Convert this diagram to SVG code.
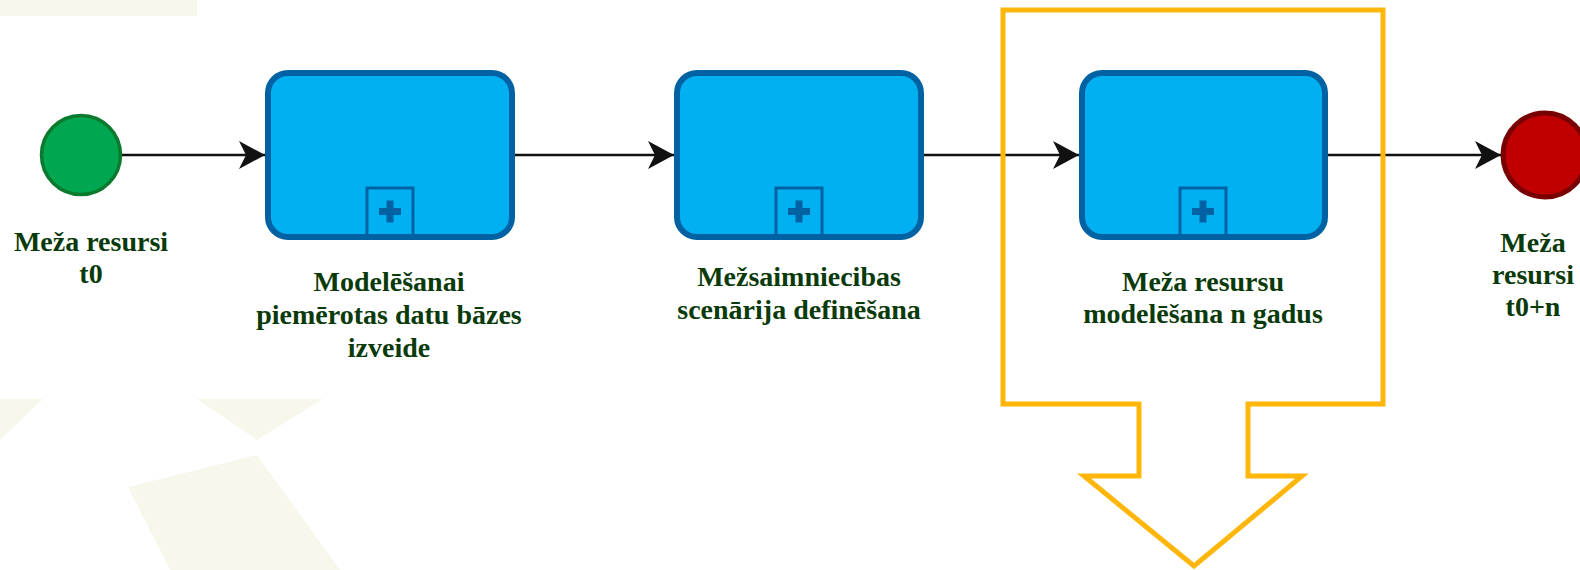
<svg xmlns="http://www.w3.org/2000/svg" width="1580" height="570" viewBox="0 0 1580 570">
  <defs>
    <style>
      .bg { fill: #F7F7EC; }
      .task { fill: #00B0F0; stroke: #0062A3; stroke-width: 6; }
      .mk { fill: none; stroke: #0062A3; stroke-width: 3; }
      .cross { fill: #0062A3; }
      .lbl { font-family: "Liberation Serif", "Times New Roman", serif; font-weight: bold; font-size: 28px; fill: #0A3A0A; text-anchor: middle; }
      .flow { fill: none; stroke: #111111; stroke-width: 2.5; }
      .callout { fill: none; stroke: #FFB60A; stroke-width: 5; stroke-linejoin: miter; }
    </style>
    <marker id="arr" viewBox="0 0 26 28" refX="26" refY="14" markerWidth="26" markerHeight="28" markerUnits="userSpaceOnUse" orient="auto">
      <path d="M0,0 L26,14 L0,28 L7,14 Z" fill="#111111"/>
    </marker>
  </defs>

  <g id="background">
    <rect x="0" y="0" width="197" height="16" class="bg"/>
    <polygon points="0,399 43,399 0,440" class="bg"/>
    <polygon points="197,399 323,399 257,440" class="bg"/>
    <polygon points="128,487 257,455 340,570 170,570" class="bg"/>
  </g>

  <g id="connectors">
    <line x1="122" y1="155" x2="265" y2="155" class="flow" marker-end="url(#arr)"/>
    <line x1="515" y1="155" x2="674" y2="155" class="flow" marker-end="url(#arr)"/>
    <line x1="924" y1="155" x2="1079" y2="155" class="flow" marker-end="url(#arr)"/>
    <line x1="1328" y1="155" x2="1501" y2="155" class="flow" marker-end="url(#arr)"/>
  </g>

  <g id="start-event">
    <circle cx="81" cy="155" r="39.5" fill="#00A650" stroke="#0B7A2E" stroke-width="3.5"/>
    <text class="lbl" x="91" y="251">Meža resursi</text>
    <text class="lbl" x="91" y="283">t0</text>
  </g>

  <g id="task-1">
    <rect x="268" y="73" width="244" height="164" rx="20" class="task"/>
    <rect x="367" y="188" width="46" height="48" class="mk"/>
    <rect x="379" y="208" width="22" height="7" class="cross"/>
    <rect x="386.5" y="200.5" width="7" height="22" class="cross"/>
    <text class="lbl" x="389" y="291">Modelēšanai</text>
    <text class="lbl" x="389" y="324">piemērotas datu bāzes</text>
    <text class="lbl" x="389" y="357">izveide</text>
  </g>

  <g id="task-2">
    <rect x="677" y="73" width="244" height="164" rx="20" class="task"/>
    <rect x="776" y="188" width="46" height="48" class="mk"/>
    <rect x="788" y="208" width="22" height="7" class="cross"/>
    <rect x="795.5" y="200.5" width="7" height="22" class="cross"/>
    <text class="lbl" x="799" y="286">Mežsaimniecibas</text>
    <text class="lbl" x="799" y="319">scenārija definēšana</text>
  </g>

  <g id="task-3">
    <rect x="1082" y="73" width="243" height="164" rx="20" class="task"/>
    <rect x="1180" y="188" width="46" height="48" class="mk"/>
    <rect x="1192" y="208" width="22" height="7" class="cross"/>
    <rect x="1199.5" y="200.5" width="7" height="22" class="cross"/>
    <text class="lbl" x="1203" y="291">Meža resursu</text>
    <text class="lbl" x="1203" y="323">modelēšana n gadus</text>
  </g>

  <g id="end-event">
    <circle cx="1545" cy="155" r="42" fill="#C00000" stroke="#780000" stroke-width="5"/>
    <text class="lbl" x="1533" y="252">Meža</text>
    <text class="lbl" x="1533" y="284">resursi</text>
    <text class="lbl" x="1533" y="316">t0+n</text>
  </g>

  <g id="callout">
    <path class="callout" d="M1139,404 L1003,404 L1003,10 L1383,10 L1383,404 L1248,404 L1248,476 L1302,476 L1194,566 L1084,476 L1139,476 Z"/>
  </g>
</svg>
